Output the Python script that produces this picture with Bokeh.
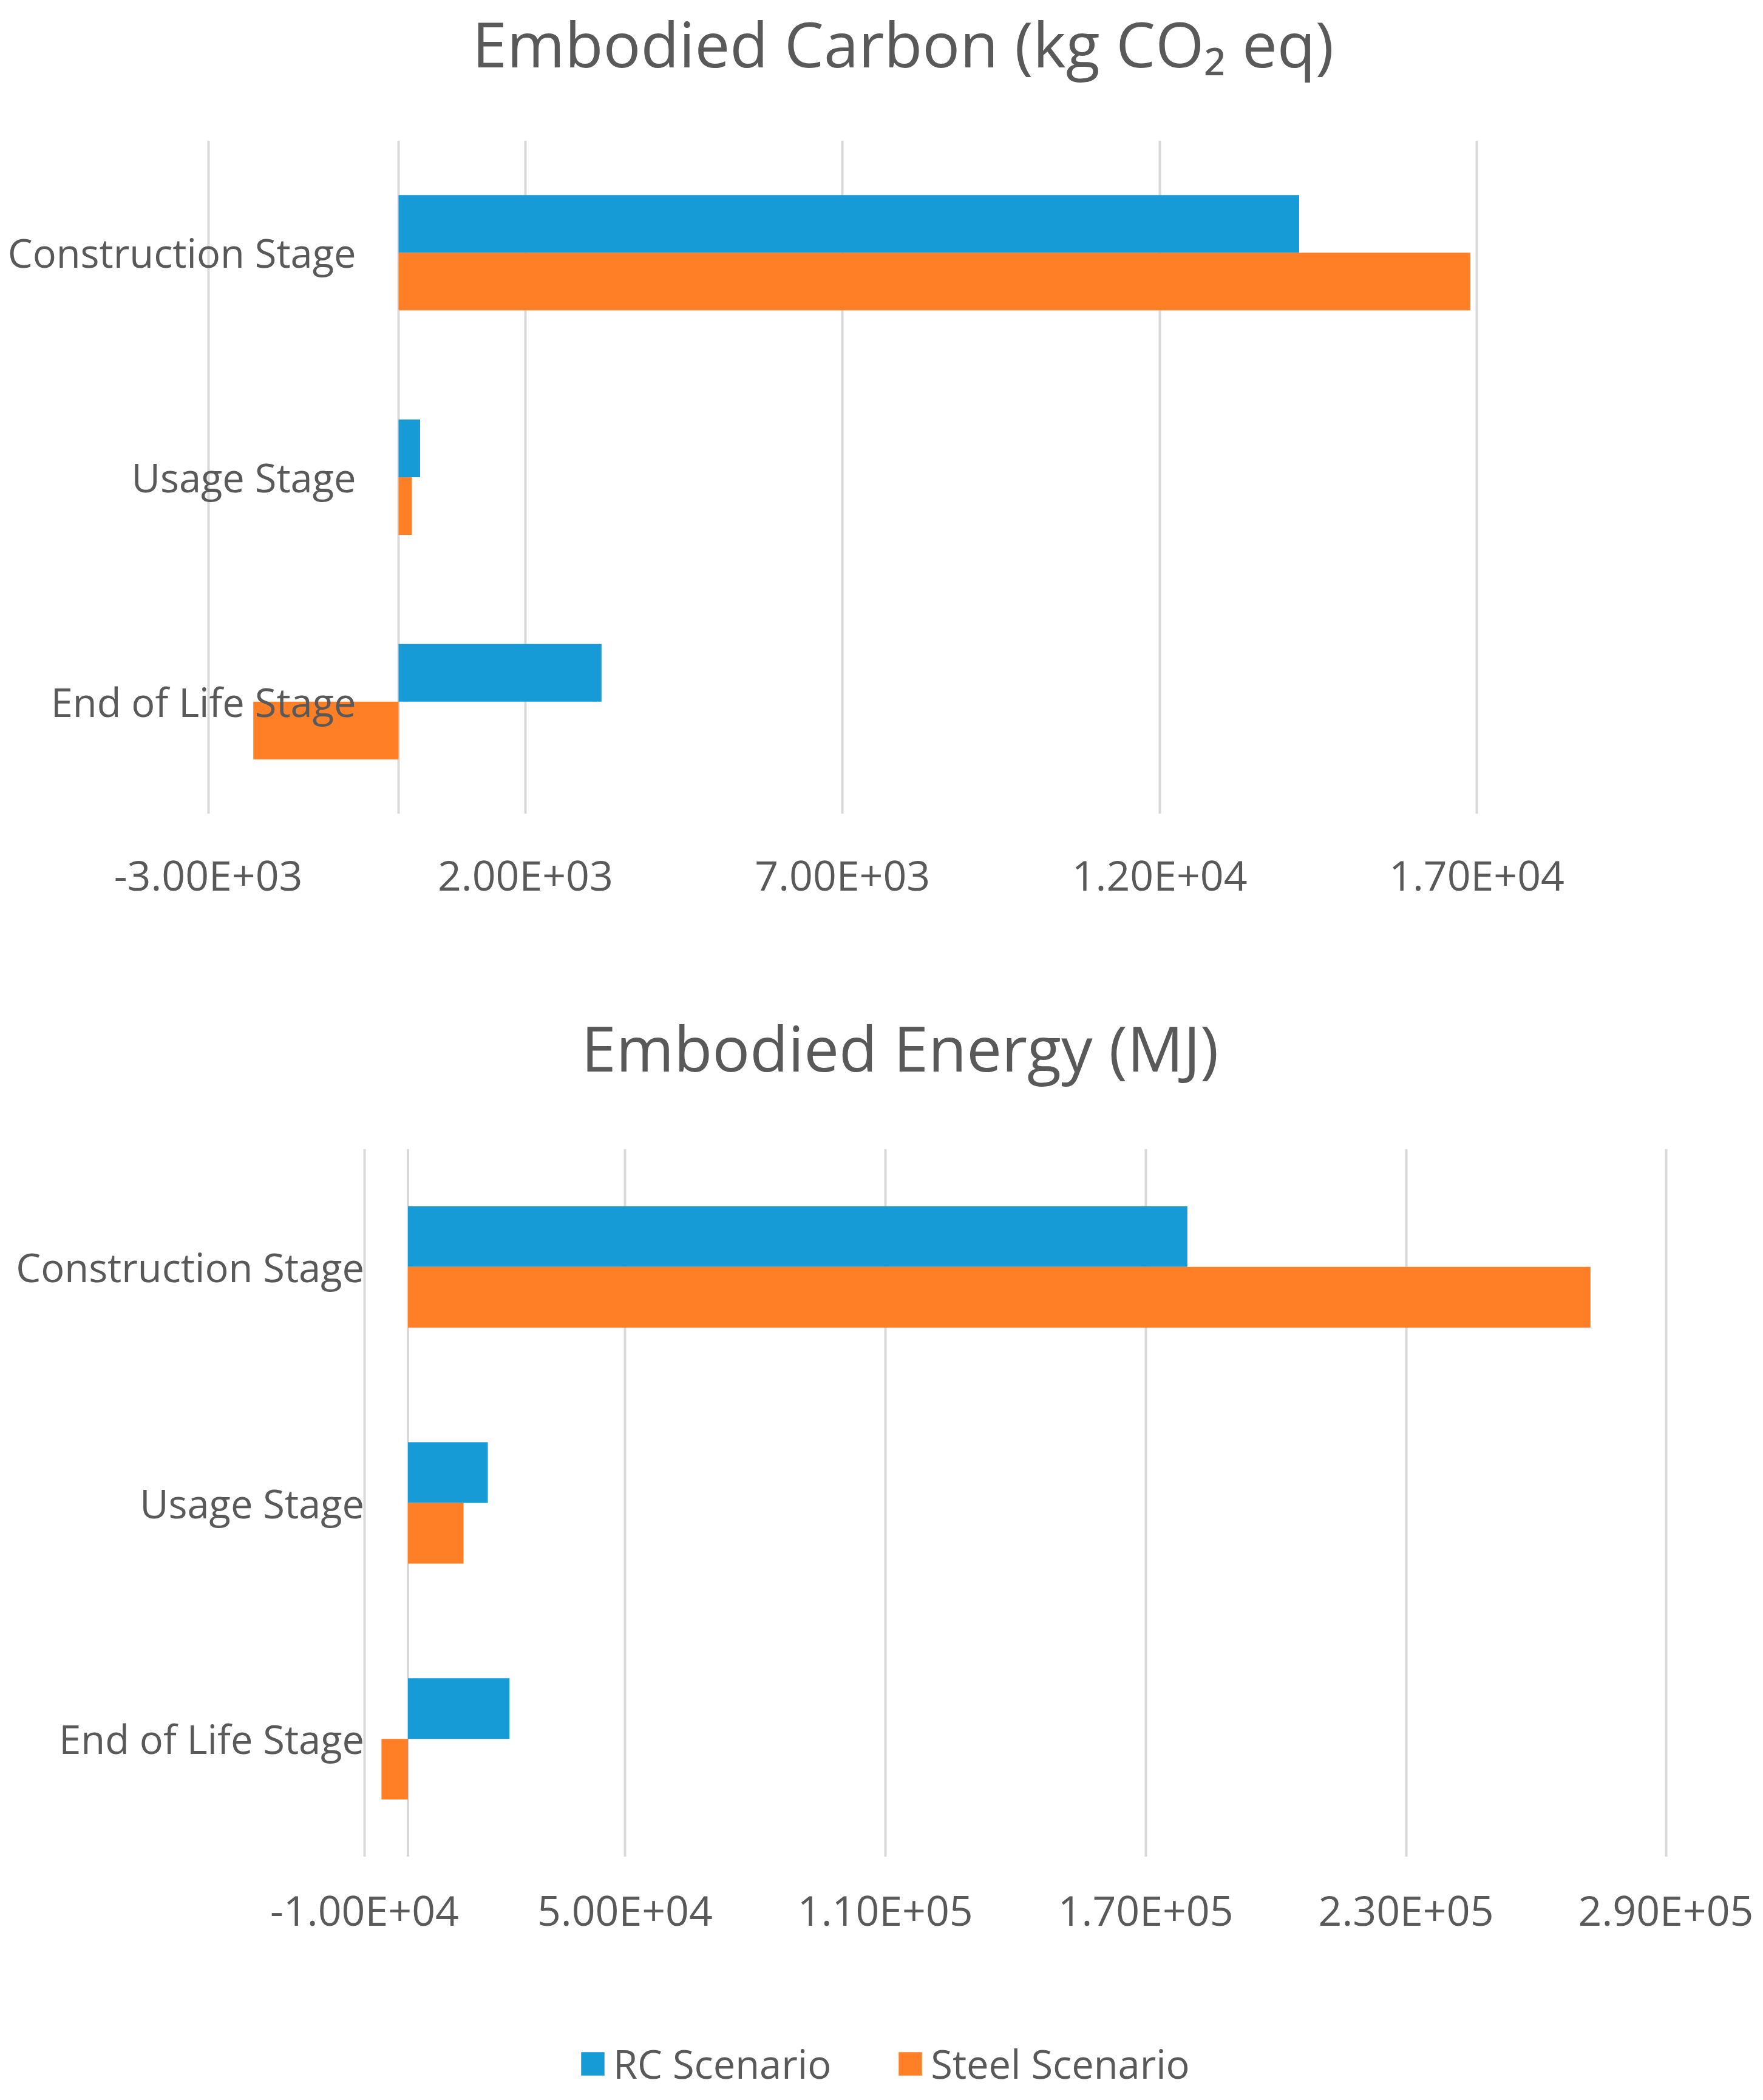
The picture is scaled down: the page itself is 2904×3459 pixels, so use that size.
from bokeh.plotting import figure
from bokeh.models import (ColumnDataSource, FactorRange, Range1d, FixedTicker, Span,
                          Legend, LegendItem, Label)
from bokeh.transform import dodge
from bokeh.layouts import column
from bokeh.core.properties import value
from bokeh.embed import file_html
from bokeh.resources import INLINE

# ---------------- data ----------------
stages = ["Construction Stage", "Usage Stage", "End of Life Stage"]
series = ["RC Scenario", "Steel Scenario"]

carbon_title = "Embodied Carbon (kg CO\u2082 eq)"
carbon_rc = [14200, 340, 3200]
carbon_steel = [16900, 210, -2290]
carbon_ticks = [-3000, 2000, 7000, 12000, 17000]

energy_title = "Embodied Energy (MJ)"
energy_rc = [179600, 18400, 23400]
energy_steel = [272500, 12800, -6100]
energy_ticks = [-10000, 50000, 110000, 170000, 230000, 290000]

# ---------------- style ----------------
BLUE = "#179BD7"
ORANGE = "#FF7F27"
TEXT = "#595959"
GRID = "#D9D9D9"
FONT = "Open Sans"
W = 2888
NAN = float("nan")


def bare_figure(height):
    f = figure(width=W, height=height, output_backend="svg", toolbar_location=None,
               x_range=Range1d(0, 1), y_range=Range1d(0, 1),
               x_axis_location=None, y_axis_location=None,
               min_border_left=0, min_border_right=0, min_border_top=0, min_border_bottom=0)
    f.outline_line_color = None
    f.xgrid.visible = False
    f.ygrid.visible = False
    f.border_fill_color = "white"
    f.background_fill_color = "white"
    return f


def header(text, height, cx, cy):
    f = bare_figure(height)
    f.add_layout(Label(x=cx, y=height - cy, x_units="screen", y_units="screen", text=text,
                       text_align="center", text_baseline="middle", text_font=FONT,
                       text_font_size="103px", text_color=TEXT))
    return f


def make_chart(rc, steel, ticks, xr, height, b_bottom, tick_standoff, label_offset):
    src = ColumnDataSource(dict(stage=stages, rc=rc, steel=steel))
    p = figure(width=W, height=height, output_backend="svg", toolbar_location=None,
               x_range=Range1d(*xr), y_range=FactorRange(factors=stages[::-1]),
               y_axis_location=None, min_border_left=0, min_border_right=0,
               min_border_top=0, min_border_bottom=b_bottom)
    p.outline_line_color = None
    p.background_fill_color = "white"
    p.border_fill_color = "white"

    ax = p.below[0]
    ax.ticker = FixedTicker(ticks=ticks)
    ax.major_label_overrides = {t: f"{t:.2E}" for t in ticks}
    ax.axis_line_color = None
    ax.major_tick_line_color = None
    ax.minor_tick_line_color = None
    ax.major_tick_out = 0
    ax.major_tick_in = 0
    ax.minor_tick_out = 0
    ax.minor_tick_in = 0
    ax.major_label_standoff = tick_standoff
    ax.major_label_text_font = FONT
    ax.major_label_text_font_size = "68px"
    ax.major_label_text_color = TEXT

    p.ygrid.visible = False
    p.xgrid.ticker = FixedTicker(ticks=ticks)
    p.xgrid.grid_line_color = GRID
    p.xgrid.grid_line_width = 4

    p.add_layout(Span(location=0, dimension="height", line_color=GRID, line_width=4,
                      level="underlay"))

    p.hbar(y=dodge("stage", 0.1285, range=p.y_range), left=0, right="rc",
           height=0.257, source=src, fill_color=BLUE, line_color=None)
    p.hbar(y=dodge("stage", -0.1285, range=p.y_range), left=0, right="steel",
           height=0.257, source=src, fill_color=ORANGE, line_color=None)

    p.text(x=0, y="stage", text="stage", source=src, x_offset=label_offset,
           text_align="right", text_baseline="middle", text_font=value(FONT),
           text_font_size="65px", text_color=TEXT)
    return p


t1 = header(carbon_title, 231, 1487, 70)
p1 = make_chart(carbon_rc, carbon_steel, carbon_ticks, (-6279, 21365), 1423, 314, 53, -70)
t2 = header(energy_title, 238, 1482, 70)
p2 = make_chart(energy_rc, energy_steel, energy_ticks, (-93943, 310086), 1431, 265, 40, -72)

# legend strip: key renderers hold only NaN placeholders, so nothing is drawn but the keys
lf = bare_figure(120)
k_rc = lf.hbar(y=[NAN], right=[NAN], height=1, fill_color=BLUE, line_color=None)
k_st = lf.hbar(y=[NAN], right=[NAN], height=1, fill_color=ORANGE, line_color=None)
legend = Legend(items=[LegendItem(label=series[0], renderers=[k_rc]),
                       LegendItem(label=series[1], renderers=[k_st])],
                location=(952, 0), orientation="horizontal",
                label_text_font=FONT, label_text_font_size="65px", label_text_color=TEXT,
                glyph_width=48, glyph_height=48, label_standoff=10, spacing=106,
                padding=0, margin=0, border_line_color=None, background_fill_alpha=0)
lf.add_layout(legend, "center")

layout = column(t1, p1, t2, p2, lf, spacing=0)
open("out.html", "w").write(file_html(layout, INLINE))
